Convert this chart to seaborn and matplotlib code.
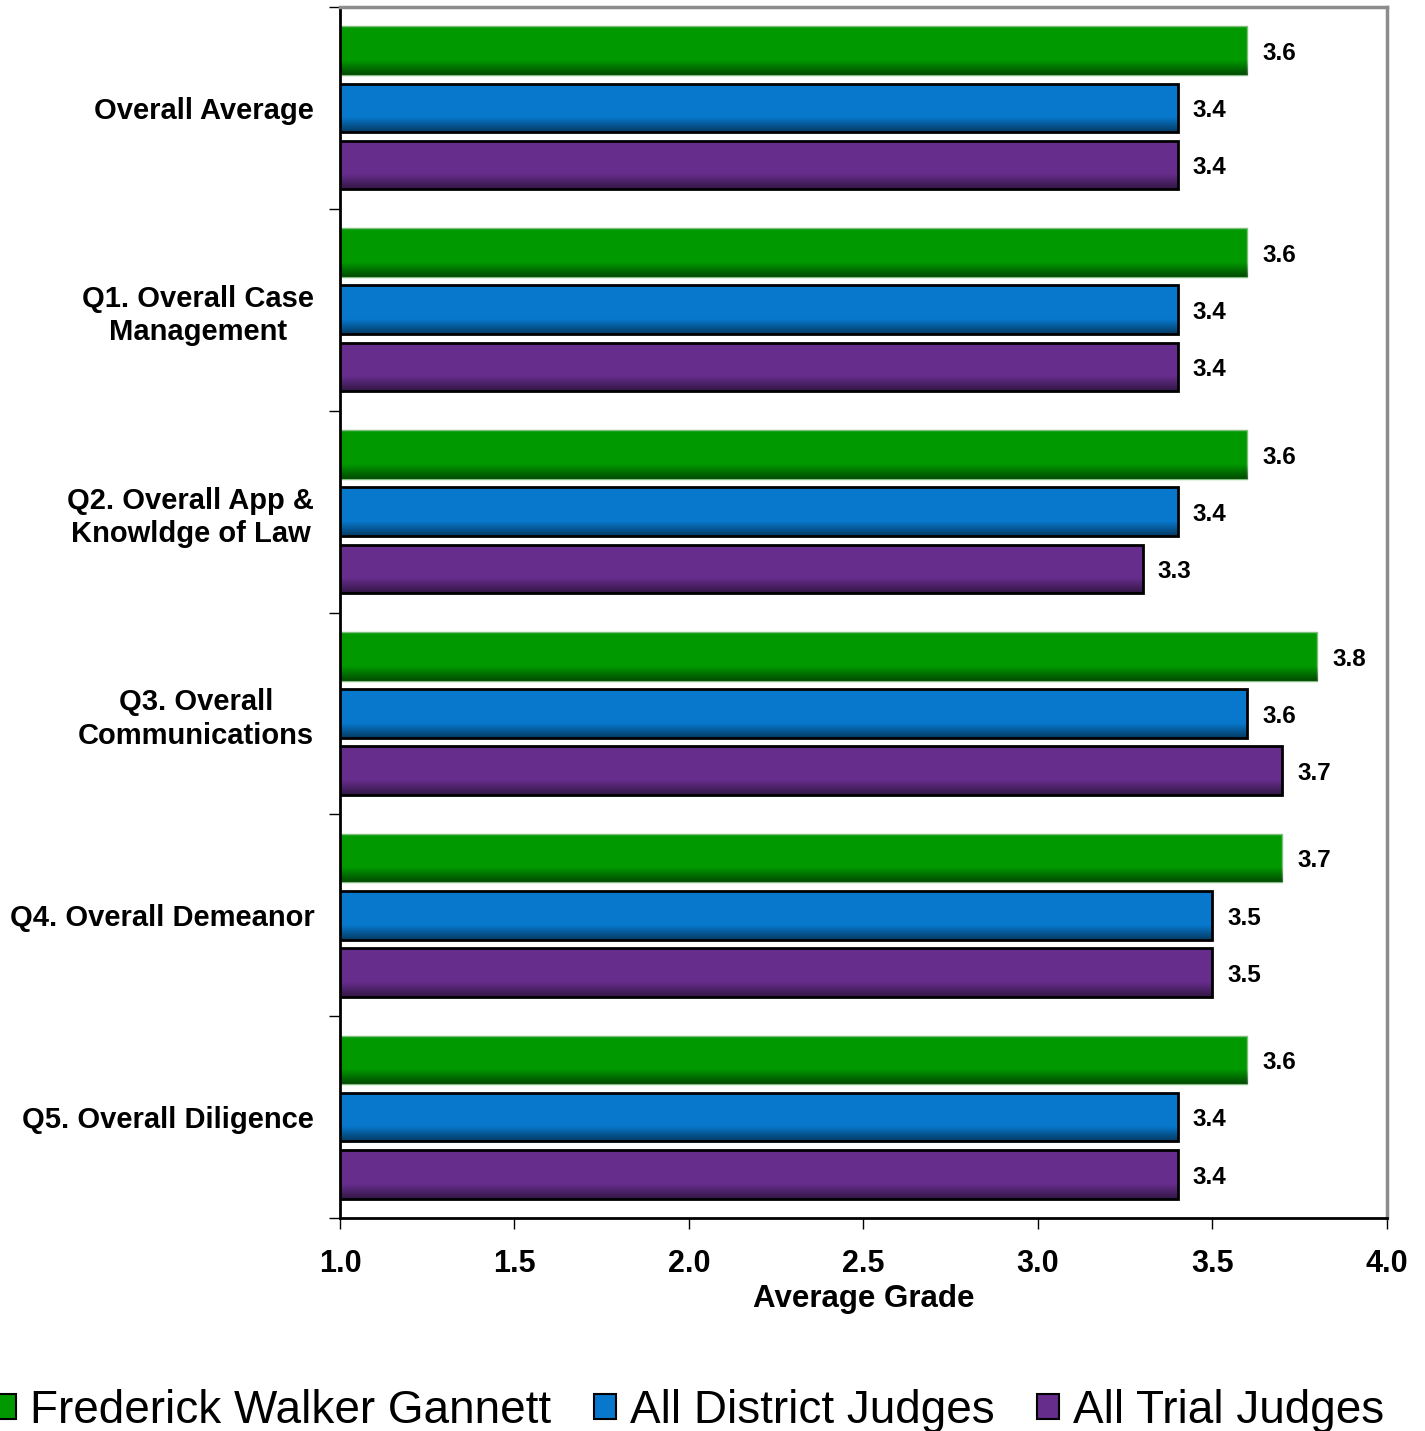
import numpy as np
import pandas as pd
import matplotlib
matplotlib.use("Agg")
import matplotlib.pyplot as plt
import seaborn as sns
from matplotlib.patches import Patch

categories = ["Overall Average", "Q1. Overall Case\nManagement", "Q2. Overall App &\nKnowldge of Law",
              "Q3. Overall\nCommunications", "Q4. Overall Demeanor", "Q5. Overall Diligence"]
series = ["Frederick Walker Gannett", "All District Judges", "All Trial Judges"]
gannett = [3.6, 3.6, 3.6, 3.8, 3.7, 3.6]
district = [3.4, 3.4, 3.4, 3.6, 3.5, 3.4]
trial = [3.4, 3.4, 3.3, 3.7, 3.5, 3.4]
colors = ["#009900", "#0878CC", "#662D8C"]

df = pd.DataFrame({"category": categories * 3,
                   "series": np.repeat(series, len(categories)),
                   "grade": gannett + district + trial})

sns.set_theme(style="white")
plt.rcParams["font.family"] = ["Liberation Sans", "DejaVu Sans"]
for k in ["text.color", "axes.labelcolor", "xtick.color", "ytick.color"]:
    plt.rcParams[k] = "black"

fig = plt.figure(figsize=(14.25, 14.31), dpi=100)
ax = fig.add_axes([0.2386, 0.1488, 0.9733 - 0.2386, 0.9951 - 0.1488])

sns.barplot(data=df, y="category", x="grade", hue="series", orient="h",
            palette=colors, width=0.85, gap=0.15, ax=ax, legend=False,
            linewidth=2, edgecolor="black", saturation=1)

xmin, xmax = 1.0, 4.0

# green bars have no dark outline
for bar in ax.containers[0]:
    bar.set_edgecolor("#7fbf7f")
    bar.set_linewidth(1)

# darker shading along the bottom of each bar
shade = np.zeros((40, 1, 4))
shade[:, 0, 3] = np.clip((np.linspace(0, 1, 40) - 0.7) / 0.3, 0, 1) * 0.5
for cont in ax.containers:
    for bar in cont:
        x0, y0, w, h = bar.get_x(), bar.get_y(), bar.get_width(), bar.get_height()
        im = ax.imshow(shade, extent=(max(x0, xmin), x0 + w, y0, y0 + h), origin="lower",
                       aspect="auto", interpolation="bilinear", zorder=bar.get_zorder() + 0.1)
        im.set_clip_path(bar)
        im.set_clip_box(ax.bbox)

# value labels
for cont in ax.containers:
    for bar in cont:
        ax.annotate(f"{bar.get_width():.1f}", (bar.get_x() + bar.get_width(), bar.get_y() + bar.get_height() / 2),
                    xytext=(11, -2), textcoords="offset points", va="center", ha="left",
                    fontsize=17.5, fontweight="bold", color="black")

ax.set_xlim(xmin, xmax)
ax.set_xticks(np.arange(1.0, 4.01, 0.5))
ax.set_xticklabels([f"{v:.1f}" for v in np.arange(1.0, 4.01, 0.5)], fontsize=22, fontweight="bold")
ax.set_ylim(5.5, -0.5)
ax.set_yticks(range(len(categories)))
ax.set_yticklabels(categories, fontsize=21, fontweight="bold", ha="right",
                   multialignment="center", linespacing=1.25)
ax.tick_params(axis="y", which="major", length=0, pad=18.5)
ax.set_yticks(np.arange(-0.5, 5.6, 1.0), minor=True)
ax.tick_params(axis="y", which="minor", length=8, width=1, color="black", left=True)
ax.tick_params(axis="x", length=8, width=1, color="black", bottom=True, pad=14)
ax.set_xlabel("Average Grade", fontsize=22.5, fontweight="bold", labelpad=4)
ax.set_ylabel("")

for s in ["left", "bottom"]:
    ax.spines[s].set_color("black")
    ax.spines[s].set_linewidth(2)
for s in ["top", "right"]:
    ax.spines[s].set_color("#8c8c8c")
    ax.spines[s].set_linewidth(2.5)

handles = [Patch(facecolor=c, edgecolor="black", linewidth=1.5) for c in colors]
fig.legend(handles, series, loc="center left", bbox_to_anchor=(-0.004, 0.014),
           ncol=3, frameon=False, fontsize=33, handlelength=0.48, handleheight=0.48,
           handletextpad=0.3, columnspacing=0.93, borderaxespad=0, borderpad=0)

fig.savefig("out.png", dpi=100)
